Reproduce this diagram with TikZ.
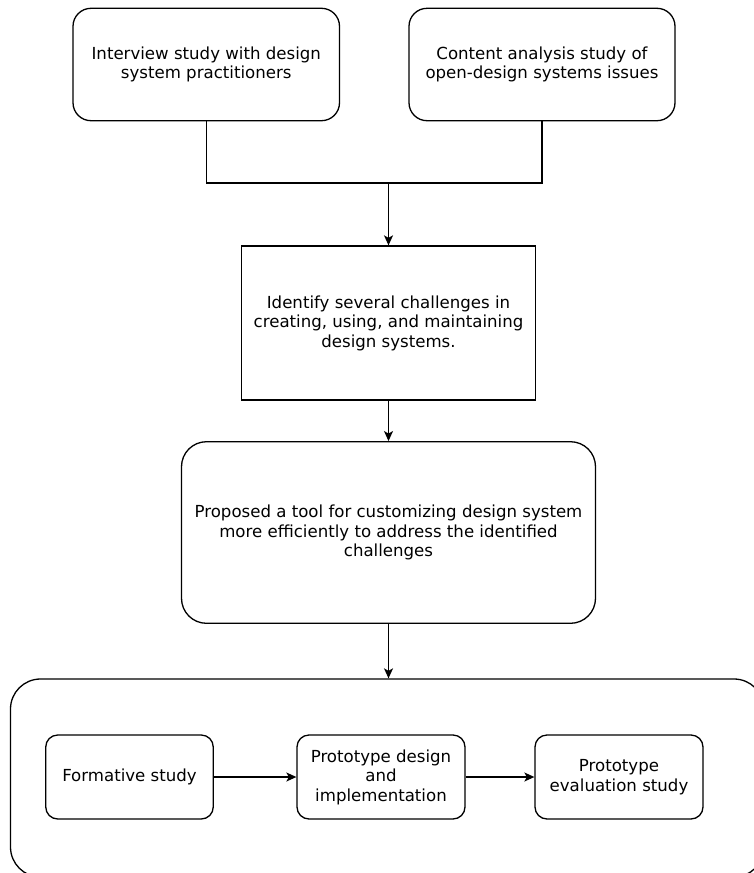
\documentclass[tikz,border=0pt]{standalone}
\usepackage{fontspec}
\setmainfont{DejaVu Sans}
\usetikzlibrary{arrows.meta}
\begin{document}
\begin{tikzpicture}[x=1pt,y=-1pt,
  line width=1.3pt,
  every node/.style={font=\fontsize{16.6}{19.5}\selectfont, align=center, inner sep=0pt},
  rbox/.style={draw, rounded corners=#1},
  rbox/.default=18pt,
  sbox/.style={draw},
  arr/.style={-{Stealth[length=10pt,width=9pt,inset=2.5pt]}}
]
\useasboundingbox (0,0) rectangle (754,873);
\begin{scope}
\clip (0,0) rectangle (754,873);
\node[rbox=30pt, minimum width=753.5pt, minimum height=198pt] (cont) at (387.25,778) {};
\end{scope}

\node[rbox, minimum width=266.5pt, minimum height=112.4pt] (a) at (206.25,64.5)
  {Interview study with design\\system practitioners};
\node[rbox, minimum width=266pt, minimum height=112.4pt] (b) at (542,64.5)
  {Content analysis study of\\open-design systems issues};
\node[sbox, minimum width=294.4pt, minimum height=154pt] (c) at (388.5,323)
  {Identify several challenges in\\creating, using, and maintaining\\design systems.};
\node[rbox=25pt, minimum width=414pt, minimum height=181.6pt] (d) at (388.5,532.5)
  {Proposed a tool for customizing design system\\more efficiently to address the identified\\challenges};

\node[rbox=12pt, minimum width=167.5pt, minimum height=84pt] (e) at (129.5,777)
  {Formative study};
\node[rbox=12pt, minimum width=168pt, minimum height=84pt] (f) at (381,777)
  {Prototype design\\and\\implementation};
\node[rbox=12pt, minimum width=168pt, minimum height=84pt] (g) at (619,777)
  {Prototype\\evaluation study};

\coordinate (j) at (388.5,183);
\draw (a.south) |- (j) -| (b.south);
\draw[arr] (j) -- (c.north);
\draw[arr] (c.south) -- (d.north);
\draw[arr] (d.south) -- (d.south |- cont.north);
\draw[arr] (e.east) -- (f.west);
\draw[arr] (f.east) -- (g.west);
\end{tikzpicture}
\end{document}
